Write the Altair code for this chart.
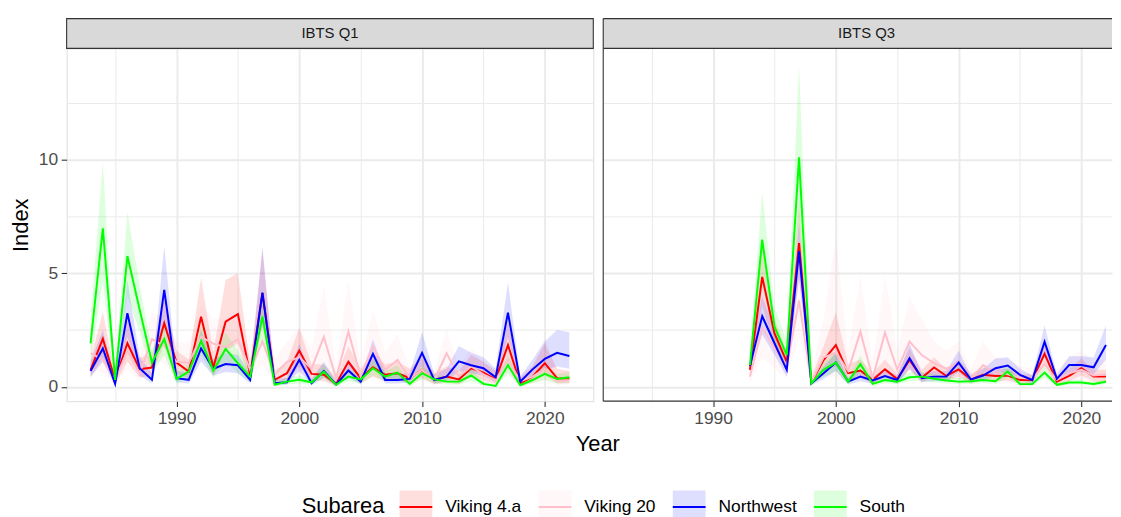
import altair as alt
import pandas as pd

SUBAREAS = ["Viking 4.a", "Viking 20", "Northwest", "South"]
LINE_COLORS = ["#FF0000", "#FFC0CB", "#0000FF", "#00FF00"]
BAND_COLORS = ["rgba(255,0,0,0.13)", "rgba(255,192,203,0.13)",
               "rgba(0,0,255,0.13)", "rgba(0,255,0,0.13)"]

Q1_YEARS = list(range(1983, 2023))
Q3_YEARS = list(range(1993, 2023))

# ---------------- IBTS Q1 ----------------
q1_viking4a = [0.75, 2.12, 0.3, 1.92, 0.78, 0.85, 2.8, 1.07, 0.67, 3.09,
               0.85, 2.87, 3.2, 0.53, 4.12, 0.31, 0.6, 1.6, 0.57, 0.53,
               0.13, 1.1, 0.38, 0.86, 0.53, 0.6, 0.38, 0.75, 0.3, 0.45,
               0.33, 0.82, 0.63, 0.33, 1.84, 0.16, 0.45, 1.04, 0.38, 0.36]
q1_viking4a_lo = [0.4, 1.3, 0.1, 1.1, 0.4, 0.5, 1.9, 0.6, 0.35, 1.9,
                  0.45, 1.6, 1.9, 0.25, 2.7, 0.12, 0.3, 0.9, 0.3, 0.25,
                  0.03, 0.6, 0.15, 0.45, 0.25, 0.3, 0.15, 0.4, 0.1, 0.2,
                  0.1, 0.45, 0.3, 0.12, 1.1, 0.05, 0.2, 0.5, 0.15, 0.15]
q1_viking4a_hi = [1.2, 3.3, 0.6, 2.9, 1.3, 1.4, 3.9, 1.6, 1.2, 4.8,
                  1.5, 4.7, 5.0, 1.0, 6.0, 0.7, 1.1, 2.6, 1.0, 1.0,
                  0.4, 1.8, 0.8, 1.5, 1.0, 1.1, 0.8, 1.3, 0.6, 0.9,
                  0.7, 1.4, 1.1, 0.7, 2.9, 0.4, 0.9, 1.9, 0.8, 0.7]

q1_viking20 = [1.48, 1.2, 0.3, 1.6, 0.6, 2.1, 1.8, 1.1, 1.05, 2.2,
               1.9, 1.75, 2.1, 0.75, 2.0, 0.55, 1.1, 1.3, 0.8, 2.2,
               0.38, 2.43, 0.45, 1.77, 0.75, 1.18, 0.38, 0.75, 0.3, 1.48,
               0.45, 0.9, 0.55, 0.3, 1.2, 0.25, 0.45, 0.8, 0.25, 0.3]
q1_viking20_lo = [0.8, 0.6, 0.1, 0.8, 0.25, 1.2, 1.0, 0.5, 0.5, 1.2,
                  1.0, 0.9, 1.2, 0.3, 1.0, 0.2, 0.5, 0.6, 0.35, 1.0,
                  0.1, 1.1, 0.15, 0.85, 0.3, 0.55, 0.1, 0.3, 0.08, 0.7,
                  0.15, 0.4, 0.2, 0.08, 0.5, 0.06, 0.15, 0.3, 0.06, 0.1]
q1_viking20_hi = [2.5, 2.2, 0.8, 2.9, 1.3, 3.3, 3.0, 2.0, 1.9, 3.6,
                  3.0, 3.0, 3.4, 1.5, 3.6, 1.2, 2.0, 2.6, 1.6, 4.5,
                  0.9, 4.7, 1.0, 3.4, 1.5, 2.3, 0.8, 1.5, 0.7, 2.5,
                  0.9, 1.7, 1.1, 0.7, 2.3, 0.6, 0.9, 2.2, 0.6, 0.7]

q1_northwest = [0.7, 1.69, 0.13, 3.24, 0.82, 0.31, 4.27, 0.38, 0.31, 1.69,
                0.8, 1.0, 0.95, 0.31, 4.15, 0.16, 0.2, 1.19, 0.16, 0.7,
                0.1, 0.72, 0.23, 1.45, 0.3, 0.3, 0.35, 1.5, 0.3, 0.45,
                1.12, 0.95, 0.82, 0.42, 3.27, 0.23, 0.77, 1.23, 1.5, 1.36]
q1_northwest_lo = [0.45, 1.1, 0.05, 2.2, 0.5, 0.15, 2.9, 0.2, 0.15, 1.1,
                   0.5, 0.65, 0.6, 0.15, 2.8, 0.07, 0.1, 0.7, 0.07, 0.4,
                   0.04, 0.4, 0.1, 0.95, 0.15, 0.15, 0.18, 0.9, 0.15, 0.25,
                   0.7, 0.6, 0.5, 0.2, 2.2, 0.1, 0.45, 0.75, 0.9, 0.8]
q1_northwest_hi = [1.1, 2.5, 0.3, 4.7, 1.3, 0.6, 6.2, 0.7, 0.6, 2.5,
                   1.2, 1.5, 1.4, 0.6, 6.2, 0.35, 0.4, 1.9, 0.35, 1.1,
                   0.25, 1.2, 0.45, 2.1, 0.6, 0.55, 0.6, 2.4, 0.55, 0.8,
                   1.8, 1.5, 1.3, 0.8, 4.6, 0.45, 1.2, 2.0, 2.5, 2.4]

q1_south = [1.92, 6.98, 0.31, 5.76, 3.4, 1.07, 2.1, 0.35, 0.67, 2.02,
            0.72, 1.67, 1.04, 0.45, 3.09, 0.09, 0.23, 0.31, 0.2, 0.67,
            0.09, 0.45, 0.33, 0.82, 0.45, 0.63, 0.13, 0.6, 0.33, 0.23,
            0.23, 0.5, 0.13, 0.04, 0.96, 0.07, 0.3, 0.57, 0.35, 0.42]
q1_south_lo = [1.1, 4.6, 0.1, 4.0, 2.4, 0.6, 1.4, 0.15, 0.4, 1.4,
               0.4, 1.1, 0.6, 0.2, 2.1, 0.03, 0.1, 0.15, 0.08, 0.4,
               0.03, 0.25, 0.15, 0.5, 0.25, 0.35, 0.05, 0.35, 0.15, 0.1,
               0.1, 0.25, 0.05, 0.01, 0.6, 0.02, 0.15, 0.3, 0.15, 0.2]
q1_south_hi = [3.0, 9.9, 0.6, 7.7, 4.5, 1.6, 2.9, 0.6, 1.0, 2.7,
               1.1, 2.4, 1.6, 0.8, 4.3, 0.2, 0.4, 0.5, 0.35, 1.0,
               0.18, 0.75, 0.55, 1.2, 0.7, 0.95, 0.25, 0.9, 0.55, 0.4,
               0.4, 0.8, 0.25, 0.1, 1.4, 0.15, 0.5, 0.9, 0.55, 0.65]

# ---------------- IBTS Q3 ----------------
q3_viking4a = [0.75, 4.84, 2.35, 1.1, 6.33, 0.19, 1.18, 1.84, 0.6, 0.72,
               0.3, 0.77, 0.34, 1.18, 0.4, 0.85, 0.48, 0.77, 0.33, 0.53,
               0.48, 0.5, 0.3, 0.3, 1.45, 0.23, 0.48, 0.82, 0.45, 0.45]
q3_viking4a_lo = [0.4, 3.6, 1.7, 0.7, 4.7, 0.08, 0.7, 0.9, 0.3, 0.4,
                  0.12, 0.45, 0.15, 0.75, 0.18, 0.5, 0.25, 0.45, 0.15, 0.3,
                  0.25, 0.28, 0.12, 0.12, 0.95, 0.08, 0.25, 0.5, 0.22, 0.22]
q3_viking4a_hi = [1.2, 6.2, 3.0, 1.5, 8.2, 0.4, 1.8, 3.3, 1.0, 1.2,
                  0.6, 1.2, 0.6, 1.7, 0.75, 1.3, 0.8, 1.2, 0.6, 0.85,
                  0.8, 0.8, 0.55, 0.55, 2.0, 0.45, 0.8, 1.25, 0.75, 0.75]

q3_viking20 = [0.45, 2.6, 1.7, 0.9, 3.8, 0.2, 1.3, 1.5, 0.7, 2.43,
               0.38, 2.38, 0.75, 1.99, 1.4, 1.04, 0.8, 1.04, 0.35, 0.96,
               0.6, 0.55, 0.4, 0.35, 1.0, 0.3, 0.6, 0.75, 0.5, 0.55]
q3_viking20_lo = [0.15, 1.3, 0.8, 0.4, 2.2, 0.05, 0.5, 0.4, 0.25, 1.1,
                  0.1, 1.0, 0.3, 0.9, 0.6, 0.45, 0.35, 0.45, 0.12, 0.4,
                  0.25, 0.2, 0.15, 0.12, 0.45, 0.1, 0.25, 0.3, 0.2, 0.2]
q3_viking20_hi = [1.0, 4.5, 3.0, 1.8, 6.0, 0.6, 3.0, 6.6, 1.5, 4.9,
                  1.0, 4.9, 1.6, 3.9, 3.0, 2.0, 1.6, 2.0, 0.8, 2.0,
                  1.3, 1.2, 0.9, 0.8, 2.0, 0.7, 1.3, 1.6, 1.1, 1.2]

q3_northwest = [0.92, 3.11, 1.92, 0.75, 5.96, 0.16, 0.6, 1.07, 0.23, 0.45,
                0.28, 0.48, 0.3, 1.26, 0.38, 0.45, 0.45, 1.07, 0.33, 0.5,
                0.82, 0.94, 0.53, 0.3, 1.99, 0.35, 0.96, 0.96, 0.86, 1.84]
q3_northwest_lo = [0.6, 2.3, 1.4, 0.45, 4.8, 0.07, 0.35, 0.7, 0.1, 0.25,
                   0.14, 0.27, 0.15, 0.8, 0.2, 0.25, 0.25, 0.65, 0.18, 0.3,
                   0.5, 0.65, 0.3, 0.15, 1.4, 0.18, 0.65, 0.65, 0.55, 1.2]
q3_northwest_hi = [1.3, 4.0, 2.5, 1.1, 7.2, 0.3, 0.9, 1.5, 0.4, 0.75,
                   0.45, 0.8, 0.5, 1.9, 0.6, 0.7, 0.7, 1.6, 0.5, 0.8,
                   1.25, 1.3, 0.8, 0.5, 2.7, 0.55, 1.35, 1.35, 1.3, 2.7]

q3_south = [0.96, 6.48, 2.65, 1.4, 10.1, 0.16, 0.75, 1.07, 0.23, 1.0,
            0.13, 0.3, 0.23, 0.42, 0.45, 0.36, 0.28, 0.23, 0.25, 0.3,
            0.25, 0.67, 0.12, 0.12, 0.63, 0.09, 0.19, 0.19, 0.13, 0.22]
q3_south_lo = [0.55, 4.6, 1.9, 0.9, 7.0, 0.07, 0.45, 0.7, 0.1, 0.65,
               0.05, 0.15, 0.12, 0.25, 0.28, 0.2, 0.15, 0.12, 0.13, 0.17,
               0.13, 0.42, 0.05, 0.05, 0.4, 0.03, 0.1, 0.1, 0.06, 0.12]
q3_south_hi = [1.5, 8.6, 3.5, 2.0, 14.2, 0.35, 1.1, 1.5, 0.4, 1.4,
               0.25, 0.5, 0.4, 0.65, 0.65, 0.55, 0.45, 0.4, 0.4, 0.45,
               0.4, 0.95, 0.25, 0.25, 0.9, 0.18, 0.3, 0.3, 0.22, 0.35]

SERIES = {
    "IBTS Q1": (Q1_YEARS, [
        ("Viking 4.a", q1_viking4a, q1_viking4a_lo, q1_viking4a_hi),
        ("Viking 20", q1_viking20, q1_viking20_lo, q1_viking20_hi),
        ("Northwest", q1_northwest, q1_northwest_lo, q1_northwest_hi),
        ("South", q1_south, q1_south_lo, q1_south_hi),
    ]),
    "IBTS Q3": (Q3_YEARS, [
        ("Viking 4.a", q3_viking4a, q3_viking4a_lo, q3_viking4a_hi),
        ("Viking 20", q3_viking20, q3_viking20_lo, q3_viking20_hi),
        ("Northwest", q3_northwest, q3_northwest_lo, q3_northwest_hi),
        ("South", q3_south, q3_south_lo, q3_south_hi),
    ]),
}

rows = []
for survey, (years, series) in SERIES.items():
    for name, vals, los, his in series:
        for yr, v, lo, hi in zip(years, vals, los, his):
            rows.append({"Survey": survey, "Year": yr, "Subarea": name,
                         "Value": v, "Lo": lo, "Hi": hi})
df = pd.DataFrame(rows)

FONT = "Liberation Sans"
PW = 530          # panel width (Q1)
PH = 355          # panel height
STRIP = 30
Y_DOMAIN = [-0.63, 14.9]
X_MIN, X_MAX = 1981.05, 2023.95
GRID = "#EBEBEB"
BORDER = "#333333"
TICK_FS = 17.5
TITLE_FS = 22
KEY = 33


def x_axis(title):
    kw = dict(
        values=[1985, 1990, 1995, 2000, 2005, 2010, 2015, 2020],
        labelExpr="datum.value % 10 === 0 ? '' + datum.value : ''",
        grid=True, gridColor=GRID,
        gridWidth={"condition": {"test": "datum.value % 10 === 0", "value": 2}, "value": 1},
        tickColor={"condition": {"test": "datum.value % 10 === 0", "value": BORDER}, "value": "transparent"},
        tickSize=5.5, tickWidth=1.1, domain=False,
        labelColor="#4D4D4D", labelFontSize=TICK_FS, labelPadding=3, labelFont=FONT,
        labelOverlap=False,
    )
    if title:
        kw.update(title="Year", titleFontSize=TITLE_FS, titleFontWeight="normal", titleColor="black",
                  titleFont=FONT, titleX=534, titleY=43, titleAlign="center", titleBaseline="middle")
    else:
        kw.update(title=None)
    return alt.Axis(**kw)


def y_axis(show):
    kw = dict(
        values=[0, 2.5, 5, 7.5, 10, 12.5],
        grid=True, gridColor=GRID,
        gridWidth={"condition": {"test": "datum.value % 5 === 0", "value": 2}, "value": 1},
        domain=False,
    )
    if show:
        kw.update(
            labelExpr="datum.value % 5 === 0 ? datum.label : ''",
            tickColor={"condition": {"test": "datum.value % 5 === 0", "value": BORDER}, "value": "transparent"},
            tickSize=5.5, tickWidth=1.1,
            labelColor="#4D4D4D", labelFontSize=TICK_FS, labelPadding=3.5, labelFont=FONT,
            title="Index", titleFontSize=TITLE_FS, titleFontWeight="normal", titleColor="black",
            titleFont=FONT, titlePadding=6,
        )
    else:
        kw.update(labels=False, ticks=False, title=None)
    return alt.Axis(**kw)


LEGEND_TOP = 444   # relative to the top of the first panel
legend = alt.Legend(
    orient="none", direction="horizontal", legendX=334, legendY=LEGEND_TOP,
    title=None,
    labelFontSize=TICK_FS, labelColor="black", labelFont=FONT, labelOffset=12,
    symbolType="M-1,0H1V1H-1V-1H1V0", symbolSize=KEY * KEY, symbolStrokeWidth=2,
    symbolDash=[KEY, 600], columnPadding=13, symbolOpacity=1,
)


def panel(survey, width, x_max, first):
    d = df[df["Survey"] == survey]
    base = alt.Chart(d)
    xs = alt.Scale(domain=[X_MIN, x_max], nice=False, zero=False)
    ys = alt.Scale(domain=Y_DOMAIN, nice=False, zero=False)
    band = base.mark_area().encode(
        x=alt.X("Year:Q", scale=xs, axis=x_axis(first)),
        y=alt.Y("Lo:Q", scale=ys, axis=y_axis(first)),
        y2="Hi:Q",
        fill=alt.Fill("Subarea:N", sort=SUBAREAS,
                      scale=alt.Scale(domain=SUBAREAS, range=BAND_COLORS), legend=legend),
    )
    line = base.mark_line(strokeWidth=2).encode(
        x=alt.X("Year:Q", scale=xs),
        y=alt.Y("Value:Q", scale=ys),
        stroke=alt.Stroke("Subarea:N", sort=SUBAREAS,
                          scale=alt.Scale(domain=SUBAREAS, range=LINE_COLORS), legend=legend),
    )
    lab = pd.DataFrame({"label": [survey], "legend_title": ["Subarea"]})
    strip_text = alt.Chart(lab).mark_text(fontSize=15, color="#1A1A1A", font=FONT, baseline="middle").encode(
        x=alt.value(PW / 2), y=alt.value(-STRIP / 2), text="label:N"
    )
    if first:
        strip = alt.Chart(lab).mark_rect(fill="#D9D9D9", stroke=BORDER, strokeWidth=1.1).encode(
            x=alt.value(0), x2=alt.value(width), y=alt.value(-STRIP), y2=alt.value(0)
        )
        legend_title = alt.Chart(lab).mark_text(
            fontSize=TITLE_FS, color="black", font=FONT, align="left", baseline="middle"
        ).encode(x=alt.value(236.5), y=alt.value(LEGEND_TOP + KEY / 2), text="legend_title:N")
        layers = [band, line, strip, strip_text, legend_title]
        return alt.layer(*layers).properties(width=width, height=PH)
    # the right-hand panel runs off the right edge of the picture: no closing border
    strip = alt.Chart(lab).mark_rect(fill="#D9D9D9", strokeWidth=0).encode(
        x=alt.value(0), x2=alt.value(width), y=alt.value(-STRIP), y2=alt.value(0)
    )
    rule = alt.Chart(lab).mark_rule(color=BORDER, strokeWidth=1.1)
    left_edge = rule.encode(x=alt.value(0), y=alt.value(-STRIP), y2=alt.value(PH))
    bottom_edge = rule.encode(x=alt.value(0), x2=alt.value(width), y=alt.value(PH))
    mid_edge = rule.encode(x=alt.value(0), x2=alt.value(width), y=alt.value(0))
    top_edge = rule.encode(x=alt.value(0), x2=alt.value(width), y=alt.value(-STRIP))
    layers = [band, line, strip, strip_text, left_edge, bottom_edge, mid_edge, top_edge]
    return alt.layer(*layers).properties(
        width=width, height=PH, view=alt.ViewBackground(strokeOpacity=0)
    )


q3_width = 512
q3_xmax = X_MIN + (X_MAX - X_MIN) * q3_width / PW

p1 = panel("IBTS Q1", PW, X_MAX, True)
p3 = panel("IBTS Q3", q3_width, q3_xmax, False)

chart = alt.hconcat(p1, p3, spacing=10, bounds="flush").resolve_scale(
    x="independent", y="independent"
).properties(
    padding={"left": 1, "top": 7, "right": 0, "bottom": 0}
).configure_view(stroke=BORDER, strokeWidth=1.1).configure(font=FONT)

chart.save("out.html", embed_options={"renderer": "svg", "actions": False})
